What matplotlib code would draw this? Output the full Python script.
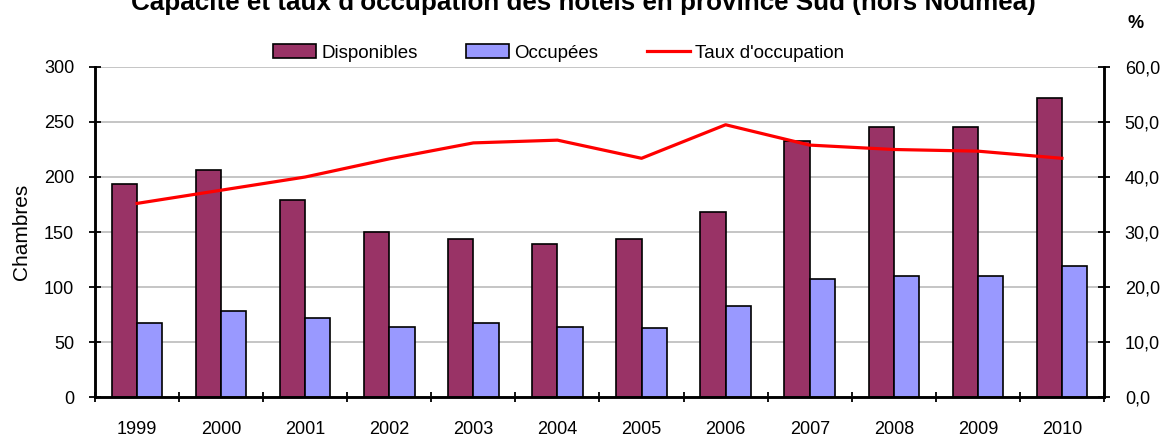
import matplotlib
matplotlib.use("Agg")
import matplotlib.pyplot as plt
import numpy as np

years = ["1999", "2000", "2001", "2002", "2003", "2004",
         "2005", "2006", "2007", "2008", "2009", "2010"]
disponibles = [194, 206, 179, 150, 144, 139, 144, 168, 233, 245, 245, 272]
occupees = [67, 78, 72, 64, 67, 64, 63, 83, 107, 110, 110, 119]
taux = [35.2, 37.6, 40.0, 43.3, 46.2, 46.7, 43.4, 49.5, 45.8, 45.0, 44.7, 43.4]

plt.rcParams['font.family'] = ['Liberation Sans', 'DejaVu Sans']

fig = plt.figure(figsize=(11.66, 4.37), dpi=100)
ax = fig.add_axes([0.0815, 0.0915, 0.8653, 0.7552])
ax2 = ax.twinx()

x = np.arange(len(years))
w = 0.3
b1 = ax.bar(x - w / 2, disponibles, w, color="#993366", edgecolor="black",
            linewidth=1.2, label="Disponibles", zorder=3)
b2 = ax.bar(x + w / 2, occupees, w, color="#9999FF", edgecolor="black",
            linewidth=1.2, label="Occupées", zorder=3)
l1, = ax2.plot(x, taux, color="#FF0000", linewidth=2.3, label="Taux d'occupation")

ax.set_xlim(-0.5, len(years) - 0.5)
ax.set_ylim(0, 300)
ax.set_yticks(range(0, 301, 50))
ax2.set_ylim(0, 60)
ax2.set_yticks(range(0, 61, 10))
ax2.set_yticklabels([f"{v},0" for v in range(0, 61, 10)])

ax.set_xticks(x)
ax.set_xticklabels(years)
ax.set_xticks(np.arange(-0.5, len(years)), minor=True)
ax.tick_params(axis="x", which="major", length=0, pad=17, labelsize=13)
ax.tick_params(axis="x", which="minor", direction="inout", length=7, width=1.3)
ax.tick_params(axis="y", direction="inout", length=8, width=1.3, pad=11, labelsize=13)
ax2.tick_params(axis="y", direction="inout", length=8, width=1.3, pad=11, labelsize=13)

ax.grid(axis="y", color="#c0c0c0", linewidth=1.3, zorder=0)
ax.set_axisbelow(True)
for a in (ax, ax2):
    a.spines["top"].set_visible(False)
    a.spines["left"].set_linewidth(1.8)
    a.spines["right"].set_linewidth(1.8)
    a.spines["bottom"].set_linewidth(1.8)

ax.set_ylabel("Chambres", fontsize=15, labelpad=9)

fig.text(0.5, 0.978, "Capacité et taux d'occupation des hôtels en province Sud (hors Nouméa)",
         ha="center", va="baseline", fontsize=18.7, fontweight="bold")
fig.text(0.974, 0.947, "%", ha="center", va="center", fontsize=13, fontweight="bold")

fig.legend([b1, b2, l1], ["Disponibles", "Occupées", "Taux d'occupation"],
           loc="center", bbox_to_anchor=(0.479, 0.879), ncol=3, frameon=False,
           fontsize=13.5, handlelength=2.3, handleheight=0.8, handletextpad=0.25,
           columnspacing=2.6)

fig.savefig("out.png", dpi=100)
